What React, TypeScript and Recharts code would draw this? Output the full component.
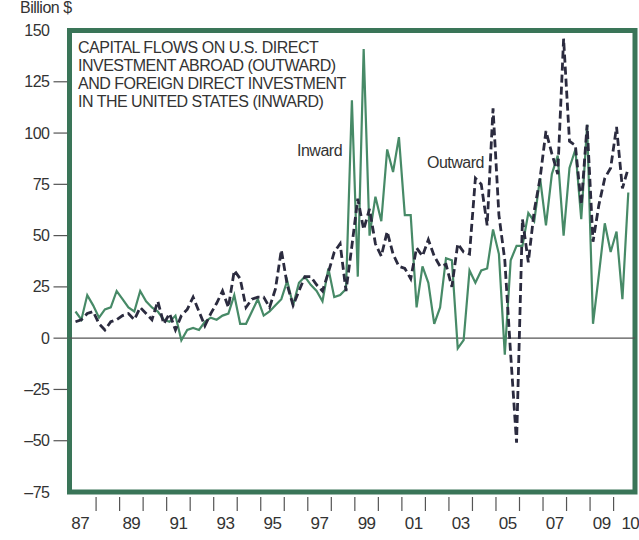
import React from 'react';
import { LineChart, Line, XAxis, YAxis, ReferenceArea, ReferenceLine } from 'recharts';

const START_YEAR = 1987;

// Quarterly, billion $, 1987Q1 .. 2010Q3
const inward = [
  13, 9, 21, 16, 10, 14, 15, 23, 19, 15, 13, 23, 18, 15, 13, 9, 8, 11, -1, 4,
  5, 4, 8, 10, 9, 11, 12, 21, 7, 7, 13, 19, 11, 13, 16, 19, 28, 16, 27, 30,
  26, 23, 18, 34, 20, 21, 24, 116, 30, 141, 50, 69, 57, 92, 81, 98, 60, 60, 15, 35,
  27, 7, 15, 39, 38, -5, -1, 33, 27, 33, 34, 53, 41, -8, 38, 45, 45, 61, 57, 78,
  55, 80, 89, 50, 83, 92, 58, 104, 7, 31, 56, 42, 52, 19, 71,
];

const outward = [
  8, 9, 12, 13, 7, 4, 8, 9, 11, 12, 9, 15, 12, 9, 18, 7, 12, 4, 11, 14,
  20, 13, 6, 12, 17, 23, 15, 33, 29, 15, 19, 20, 20, 15, 24, 43, 26, 16, 23, 30,
  30, 26, 23, 32, 42, 46, 23, 45, 68, 53, 63, 46, 40, 52, 41, 35, 34, 29, 44, 40,
  48, 40, 35, 36, 25, 46, 42, 41, 78, 75, 55, 112, 60, 38, -8, -51, 58, 37, 62, 78,
  101, 90, 80, 146, 96, 94, 65, 104, 47, 65, 78, 83, 103, 73, 83,
];

const yTicks = [-75, -50, -25, 0, 25, 50, 75, 100, 125, 150];
const yearBreaks = [
  1988, 1989, 1990, 1991, 1992, 1993, 1994, 1995, 1996, 1997, 1998, 1999,
  2000, 2001, 2002, 2003, 2004, 2005, 2006, 2007, 2008, 2009, 2010,
];
const labelYears = [1987, 1989, 1991, 1993, 1995, 1997, 1999, 2001, 2003, 2005, 2007, 2009, 2010];

const data = inward.map((v, i) => ({
  t: START_YEAR + (i + 0.5) / 4,
  inward: v,
  outward: outward[i],
}));

const X_DOMAIN: [number, number] = [1986.87, 2010.91];
const xTicks = [...yearBreaks, ...labelYears.map((y) => y + 0.5)].sort((a, b) => a - b);

const FONT = '"Liberation Sans", Arial, Helvetica, sans-serif';
const TEXT = '#333';
const FRAME = '#3a7558';
const GREEN = '#478a67';
const NAVY = '#2b2b3f';

function XTick({ x, y, payload }: any) {
  const v = payload.value as number;
  if (Number.isInteger(v)) {
    return <line x1={x} x2={x} y1={y + 5} y2={y + 19} stroke="#555" strokeWidth={1.2} />;
  }
  const yr = Math.floor(v);
  const dx = yr === 1987 ? -4 : yr === 2010 ? 5 : 0;
  return (
    <text x={x + dx} y={y + 37} textAnchor="middle" fill={TEXT} fontSize={17} fontFamily={FONT} letterSpacing={-0.5}>
      {String(yr).slice(2)}
    </text>
  );
}

function YTick({ x, y, payload }: any) {
  const v = payload.value as number;
  const edge = v === 150 || v === -75;
  return (
    <g>
      {!edge && <line x1={x + 4} x2={x + 18} y1={y} y2={y} stroke="#555" strokeWidth={1.2} />}
      <text x={x} y={y} dy={5.5} textAnchor="end" fill={TEXT} fontSize={16} fontFamily={FONT} letterSpacing={-0.5}>
        {v < 0 ? `\u2013${Math.abs(v)}` : v}
      </text>
    </g>
  );
}

const label: React.CSSProperties = {
  position: 'absolute',
  fontFamily: FONT,
  fontSize: 16,
  lineHeight: '18px',
  letterSpacing: -0.5,
  color: TEXT,
  whiteSpace: 'nowrap',
};

export default function App() {
  return (
    <div style={{ position: 'relative', width: 639, height: 540, background: '#fff', overflow: 'hidden' }}>
      <style>{'body{margin:0}'}</style>
      <LineChart width={639} height={540} data={data} margin={{ top: 30.5, right: 4, bottom: 0, left: 0 }}>
        <XAxis
          dataKey="t"
          type="number"
          domain={X_DOMAIN}
          ticks={xTicks}
          interval={0}
          axisLine={false}
          tickLine={false}
          tickSize={0}
          tickMargin={0}
          height={48}
          tick={<XTick />}
        />
        <YAxis
          type="number"
          domain={[-75, 150]}
          ticks={yTicks}
          interval={0}
          axisLine={false}
          tickLine={false}
          tickSize={16}
          tickMargin={4}
          width={69.5}
          tick={<YTick />}
        />
        <ReferenceLine y={0} stroke="#555" strokeWidth={1.2} />
        <Line type="linear" dataKey="inward" stroke={GREEN} strokeWidth={2.2} dot={false} isAnimationActive={false} />
        <Line
          type="linear"
          dataKey="outward"
          stroke={NAVY}
          strokeWidth={2.8}
          strokeDasharray="8 4"
          dot={false}
          isAnimationActive={false}
        />
        <ReferenceArea
          x1={X_DOMAIN[0]}
          x2={X_DOMAIN[1]}
          y1={-75}
          y2={150}
          fill="none"
          fillOpacity={0}
          stroke={FRAME}
          strokeWidth={5}
          ifOverflow="visible"
        />
      </LineChart>
      <div style={{ ...label, left: 20, top: -1 }}>Billion $</div>
      <div style={{ ...label, left: 78, top: 39 }}>
        CAPITAL FLOWS ON U.S. DIRECT
        <br />
        INVESTMENT ABROAD (OUTWARD)
        <br />
        AND FOREIGN DIRECT INVESTMENT
        <br />
        IN THE UNITED STATES (INWARD)
      </div>
      <div style={{ ...label, left: 297, top: 142 }}>Inward</div>
      <div style={{ ...label, left: 427, top: 154 }}>Outward</div>
    </div>
  );
}
